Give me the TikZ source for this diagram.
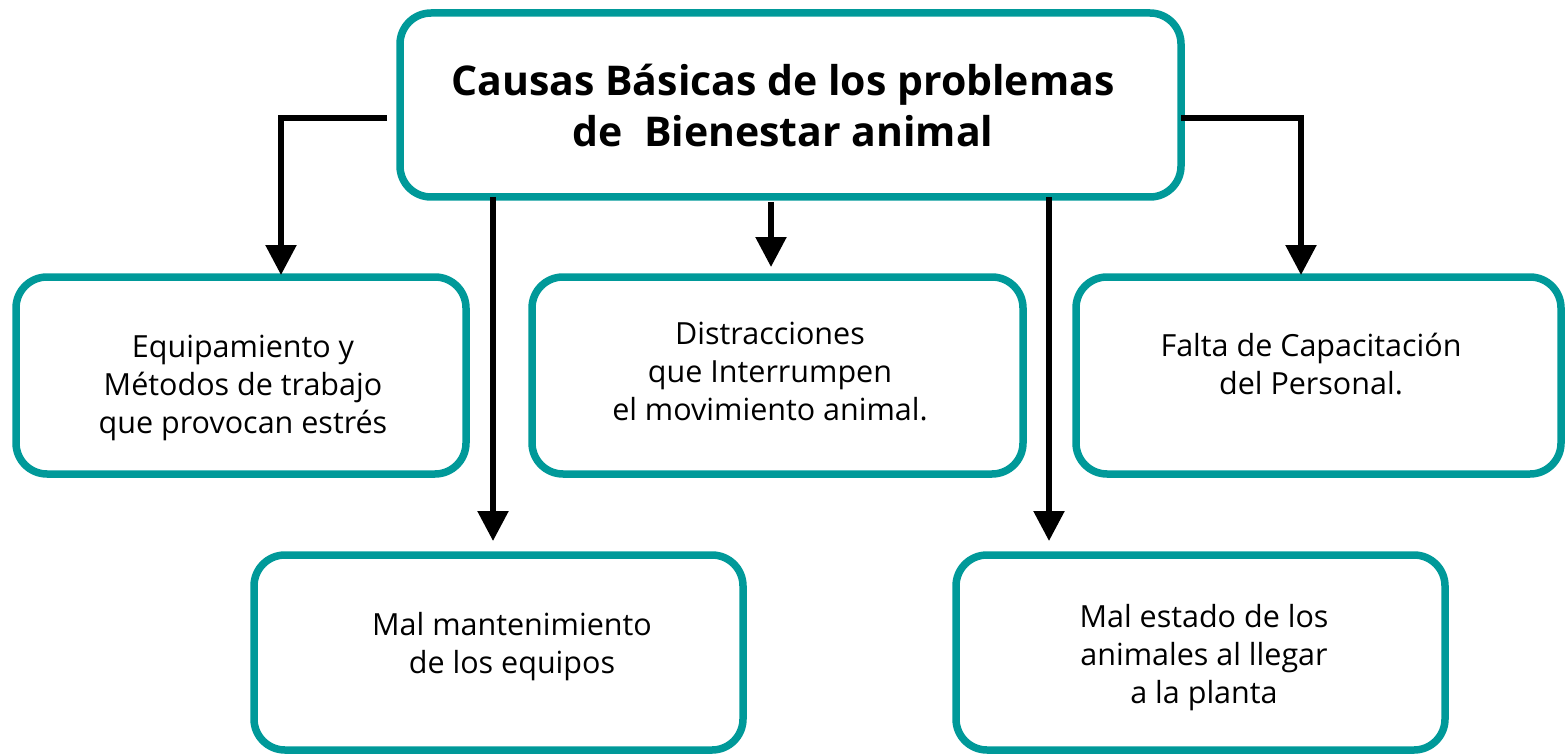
\documentclass[tikz,border=0pt]{standalone}
\usepackage{fontspec}
\setmainfont{Open Sans}
\usetikzlibrary{arrows.meta}
\definecolor{teal0}{RGB}{0,153,153}
\begin{document}
\begin{tikzpicture}[x=1pt,y=-1pt,
  box/.style n args={2}{draw=teal0, line width=7.5pt, rounded corners=31pt,
    minimum width=#1, minimum height=#2, inner sep=0pt, outer sep=0pt},
  arr/.style={line width=5.5pt, -{Triangle[width=30pt,length=30pt]}},
  txt/.style={align=center, inner sep=0pt, font=\fontsize{30.5}{38}\selectfont},
  ttl/.style={align=center, inner sep=0pt, font=\bfseries\fontsize{41}{51}\selectfont}]
\useasboundingbox (0,0) rectangle (1565,754);
% boxes
\node[box={781pt}{184pt}] (top) at (790.5,105) {};
\node[box={450pt}{197pt}] (b1) at (241,375.5) {};
\node[box={491pt}{197pt}] (b2) at (777.5,375.5) {};
\node[box={485pt}{197pt}] (b3) at (1318.5,375.5) {};
\node[box={489pt}{195pt}] (b4) at (498.5,652.5) {};
\node[box={489pt}{195pt}] (b5) at (1200.5,652.5) {};
% texts (base = baseline of last line)
\node[ttl, anchor=base] (t0) at (783,147) {Causas Básicas de los problemas\\de\ \ Bienestar animal};
\node[txt, anchor=base] (t1) at (243,433) {Equipamiento y\\Métodos de trabajo\\que provocan estrés};
\node[txt, anchor=base] (t2) at (770,420) {Distracciones\\que Interrumpen\\el movimiento animal.};
\node[txt, anchor=base] (t3) at (1311,394) {Falta de Capacitación\\del Personal.};
\node[txt, anchor=base] (t4) at (512,673) {Mal mantenimiento\\de los equipos};
\node[txt, anchor=base] (t5) at (1204,703) {Mal estado de los\\animales al llegar\\a la planta};
% connector helpers
\coordinate (sl) at (387,118);
\coordinate (jl) at (281,118);
\coordinate (jr) at (1301,118);
\coordinate (xm) at (771,0);
\coordinate (x4) at (493,0);
\coordinate (x5) at (1049,0);
% connectors
\draw[arr, shorten >=2pt] (sl) -- (jl) -- (jl |- b1.north);
\draw[arr, shorten >=2pt] (top.east |- jr) -- (jr) -- (jr |- b3.north);
\draw[arr, shorten <=5pt, shorten >=10pt] (top.south -| xm) -- (b2.north -| xm);
\draw[arr, shorten >=14pt] (top.south -| x4) -- (b4.north -| x4);
\draw[arr, shorten >=14pt] (top.south -| x5) -- (b5.north -| x5);
\end{tikzpicture}
\end{document}
